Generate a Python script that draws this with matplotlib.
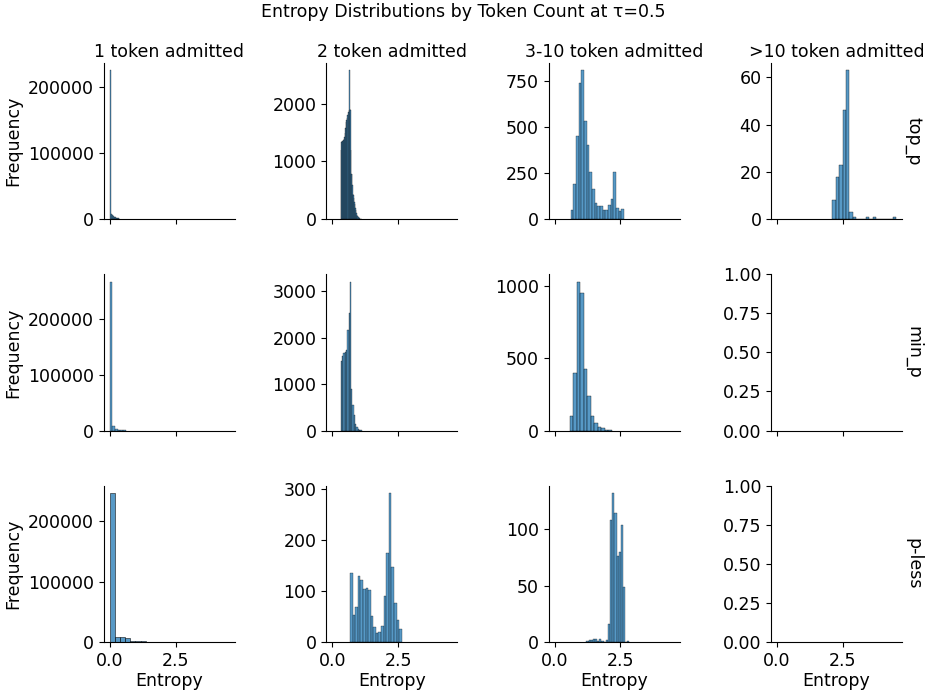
import numpy as np
import matplotlib
matplotlib.use("Agg")
import matplotlib.pyplot as plt

# facet labels
methods = ["top_p", "min_p", "p-less"]
groups = ["1 token admitted", "2 token admitted", "3-10 token admitted", ">10 token admitted"]

# histogram bins: first bin edge, bin width, counts per bin
# top_p
topp_1_start, topp_1_width = 0.0, 0.04
topp_1_counts = [226000, 8000, 6000, 4500, 3500, 2600, 2000, 1500, 1100, 800]
topp_2_start, topp_2_width = 0.32, 0.02
topp_2_counts = [1200, 1330, 1350, 1355, 1360, 1370, 1390, 1420, 1500, 1580,
                 1680, 1720, 1760, 1810, 1850, 1900, 2580, 1910, 1900, 1200,
                 790, 780, 600, 440, 420, 360, 300, 260, 200, 150,
                 110, 80, 55, 35, 22, 14, 8, 5, 3, 1]
topp_3_start, topp_3_width = 0.61, 0.1015
topp_3_counts = [52, 192, 450, 741, 808, 534, 403, 255, 162, 85,
                 70, 74, 52, 52, 77, 112, 255, 63, 43, 57]
topp_4_start, topp_4_width = 2.105, 0.127
topp_4_counts = [8, 18, 23, 46, 63, 3, 1, 0, 0, 0,
                 1, 0, 1, 0, 0, 0, 0, 0, 1]

# min_p
minp_1_start, minp_1_width = 0.0, 0.1
minp_1_counts = [268000, 7300, 3600, 1500, 600, 200]
minp_2_start, minp_2_width = 0.32, 0.05
minp_2_counts = [1490, 1600, 1680, 1690, 1740, 2170, 2530, 3210, 890, 545,
                 344, 150, 80, 40, 15, 5]
minp_3_start, minp_3_width = 0.58, 0.133
minp_3_counts = [104, 400, 1032, 956, 425, 242, 104, 51, 25, 16, 7, 3]

# p-less
pless_1_start, pless_1_width = 0.0, 0.195
pless_1_counts = [247000, 8800, 7700, 6100, 2000, 1200, 800, 500]
pless_2_start, pless_2_width = 0.68, 0.098
pless_2_counts = [134, 53, 69, 128, 121, 104, 106, 101, 51, 30,
                  18, 20, 31, 90, 173, 291, 147, 77, 43, 25]
pless_3_start, pless_3_width = 1.205, 0.0818
pless_3_counts = [1, 2, 2, 3, 3, 1, 3, 1, 0, 2,
                  16, 108, 132, 114, 76, 80, 104, 49, 0, 1]

panels = {
    (0, 0): (topp_1_start, topp_1_width, topp_1_counts),
    (0, 1): (topp_2_start, topp_2_width, topp_2_counts),
    (0, 2): (topp_3_start, topp_3_width, topp_3_counts),
    (0, 3): (topp_4_start, topp_4_width, topp_4_counts),
    (1, 0): (minp_1_start, minp_1_width, minp_1_counts),
    (1, 1): (minp_2_start, minp_2_width, minp_2_counts),
    (1, 2): (minp_3_start, minp_3_width, minp_3_counts),
    (2, 0): (pless_1_start, pless_1_width, pless_1_counts),
    (2, 1): (pless_2_start, pless_2_width, pless_2_counts),
    (2, 2): (pless_3_start, pless_3_width, pless_3_counts),
}

plt.rcParams["font.size"] = 12.5
plt.rcParams["axes.titlesize"] = 12.5

fig = plt.figure(figsize=(9.27, 6.91), dpi=100)
axes = fig.subplots(3, 4, sharex=True)
fig.subplots_adjust(left=0.112, right=0.973, top=0.909, bottom=0.071,
                    wspace=0.70, hspace=0.353)

face = (31 / 255, 119 / 255, 180 / 255, 0.75)

for (r, c), (start, width, counts) in panels.items():
    ax = axes[r, c]
    counts = np.array(counts, dtype=float)
    left = start + width * np.arange(len(counts))
    ax.bar(left, counts, width=width, align="edge", facecolor=face,
           edgecolor="black", linewidth=0.3)

fig.canvas.draw()

for r in range(3):
    for c in range(4):
        ax = axes[r, c]
        ax.spines["top"].set_visible(False)
        ax.spines["right"].set_visible(False)
        if r == 0:
            ax.set_title(groups[c], pad=4)
        if c == 0:
            ax.set_ylabel("Frequency")
        if r == 2:
            ax.set_xlabel("Entropy", labelpad=1.5)
        if c == 3:
            ax.annotate(methods[r], xy=(1.02, 0.5), xycoords="axes fraction",
                        rotation=270, ha="left", va="center")

# edge width follows bin width, with a floor so narrow bins stay dark
px_per_unit = axes[0, 0].bbox.width / np.diff(axes[0, 0].get_xlim())[0]
for (r, c), (start, width, counts) in panels.items():
    w_pts = width * px_per_unit * 72 / fig.dpi
    lw = max(min(0.1 * w_pts, 1.0), 0.2)
    for bar in axes[r, c].patches:
        bar.set_linewidth(lw)

fig.suptitle("Entropy Distributions by Token Count at τ=0.5", y=0.995, fontsize=12.5)

fig.savefig("out.png", dpi=100)
